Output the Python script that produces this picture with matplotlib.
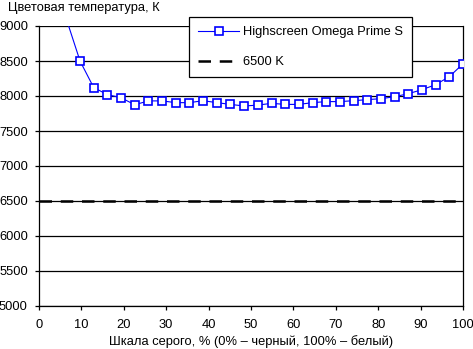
import matplotlib
matplotlib.use("Agg")
import matplotlib.pyplot as plt
import numpy as np

plt.rcParams['font.family'] = ['Liberation Sans', 'DejaVu Sans']

# 32 ступени серого, 0..100 %
gray_pct = np.arange(32) * 100.0 / 31
temp_k = [10600, 9900, 9100, 8500, 8120, 8020, 7975, 7875, 7930, 7930,
          7905, 7905, 7933, 7905, 7880, 7857, 7870, 7895, 7880, 7880,
          7905, 7920, 7920, 7933, 7948, 7962, 7990, 8033, 8090, 8162,
          8276, 8460]
ref_k = 6500
series_name = 'Highscreen Omega Prime S'
ref_name = '6500 K'

W, H = 473, 349
fig = plt.figure(figsize=(W / 100, H / 100), dpi=100)
ax = fig.add_axes([39 / W, 1 - 306 / H, (463 - 39) / W, (306 - 26) / H])

fs = 9.3
ax.plot(gray_pct, temp_k, '-s', color='#0000ff', lw=0.8, ms=5.4,
        mfc='white', mec='#0000ff', mew=1.2, label=series_name, zorder=3)
ax.axhline(ref_k, color='black', lw=1.8, dashes=(5, 3.5), label=ref_name, zorder=2)

ax.set_xlim(0, 100)
ax.set_ylim(5000, 9000)
ax.set_xticks(np.arange(0, 101, 10))
ax.set_yticks(np.arange(5000, 9001, 500))
ax.grid(axis='y', color='black', lw=0.9)
ax.set_axisbelow(True)
for s in ax.spines.values():
    s.set_color('black')
    s.set_linewidth(0.9)
ax.spines['top'].set_visible(False)
ax.tick_params(direction='out', length=3, width=0.9, labelsize=fs, pad=6)
ax.tick_params(axis='y', pad=5)

ax.set_xlabel('Шкала серого, % (0% – черный, 100% – белый)', fontsize=fs, labelpad=3)
fig.text(8 / W, 1 - 8 / H, 'Цветовая температура, К', fontsize=fs, va='center', ha='left')

leg = ax.legend(loc='upper left', bbox_to_anchor=((189 - 39) / (463 - 39), 1 + 9 / 280),
                fontsize=fs, frameon=True, fancybox=False, edgecolor='black',
                framealpha=1, borderpad=0.7, labelspacing=1.4, handlelength=3.2,
                handletextpad=0.25, borderaxespad=0)
leg.get_frame().set_linewidth(0.9)

fig.savefig('out.png', dpi=100)
